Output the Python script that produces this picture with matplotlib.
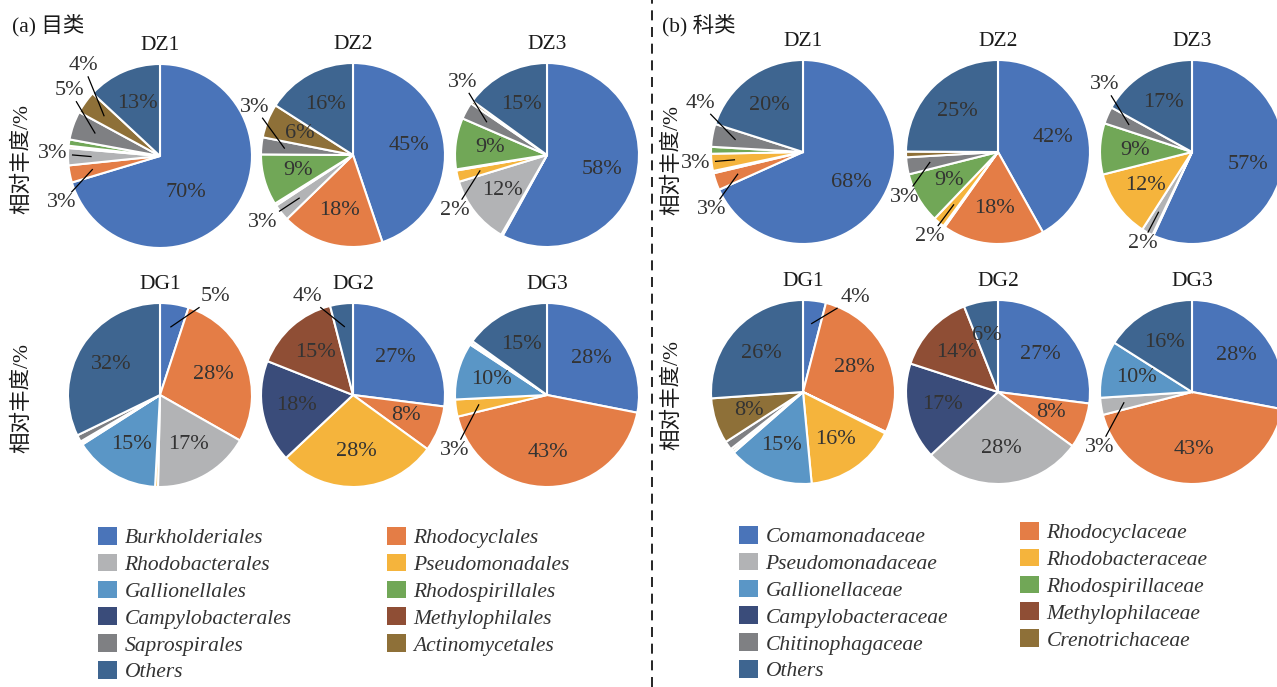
import numpy as np
import matplotlib
matplotlib.use("Agg")
import matplotlib.pyplot as plt
from matplotlib.patches import Patch

plt.rcParams['font.family'] = ['Liberation Serif', 'Noto Sans CJK SC']

W, H = 1277, 687

samples = ['DZ1', 'DZ2', 'DZ3', 'DG1', 'DG2', 'DG3']

orders = ['Burkholderiales', 'Rhodocyclales', 'Rhodobacterales', 'Pseudomonadales',
          'Gallionellales', 'Rhodospirillales', 'Campylobacterales', 'Methylophilales',
          'Saprospirales', 'Actinomycetales', 'Others']
families = ['Comamonadaceae', 'Rhodocyclaceae', 'Pseudomonadaceae', 'Rhodobacteraceae',
            'Gallionellaceae', 'Rhodospirillaceae', 'Campylobacteraceae', 'Methylophilaceae',
            'Chitinophagaceae', 'Crenotrichaceae', 'Others']

colors = ['#4A74B9', '#E47D46', '#B2B3B5', '#F5B43C', '#5A96C6', '#71A757',
          '#3A4C7A', '#8F4E35', '#7F8083', '#8E7038', '#3E6590']

# relative abundance (%) per sample, in legend order
order_dz1 = [70, 3, 3, 0.4, 0, 1.1, 0, 0, 5, 4, 13]
order_dz2 = [45, 18, 3, 0.4, 0, 9, 0, 0, 3, 6, 16]
order_dz3 = [58, 0.3, 12, 2, 0.2, 9, 0, 0, 3, 0.5, 15]
order_dg1 = [5, 28, 17, 0.5, 15, 0.3, 0, 0.3, 1.2, 0, 32]
order_dg2 = [27, 8, 0, 28, 0, 0, 18, 15, 0, 0, 4]
order_dg3 = [28, 43, 0, 3, 10, 0.3, 0, 0, 0.4, 0, 15]

family_dz1 = [68, 3, 0.4, 3, 0, 1.2, 0, 0, 4, 0, 20]
family_dz2 = [42, 18, 0.3, 2, 0, 9, 0, 0, 3, 1, 25]
family_dz3 = [57, 0.2, 2, 12, 0, 9, 0, 0, 3, 0, 17]
family_dg1 = [4, 28, 0.3, 16, 15, 0.4, 0, 0.4, 1.5, 8, 26]
family_dg2 = [27, 8, 28, 0, 0, 0, 17, 14, 0, 0, 6]
family_dg3 = [28, 43, 3, 0, 10, 0, 0, 0, 0, 0, 16]

order_data = [order_dz1, order_dz2, order_dz3, order_dg1, order_dg2, order_dg3]
family_data = [family_dz1, family_dz2, family_dz3, family_dg1, family_dg2, family_dg3]

# layout: pie centres in pixels
pie_r = 92
centres_a = [(160, 156), (353, 155), (547, 155), (160, 395), (353, 395), (547, 395)]
centres_b = [(803, 152), (998, 152), (1192, 152), (803, 392), (998, 392), (1192, 392)]

# where the small-slice labels sit (pie radius units)
outside_pos = {
    ('a', 'DZ1'): {1: (-1.07, -0.51), 2: (-1.17, 0.03), 8: (-0.98, 0.71), 9: (-0.83, 0.98)},
    ('a', 'DZ2'): {8: (-1.07, 0.52), 2: (-0.98, -0.73)},
    ('a', 'DZ3'): {8: (-0.92, 0.79), 3: (-1.0, -0.60)},
    ('a', 'DG1'): {0: (0.6, 1.07)},
    ('a', 'DG2'): {10: (-0.5, 1.07)},
    ('a', 'DG3'): {3: (-1.0, -0.60)},
    ('b', 'DZ1'): {8: (-1.12, 0.53), 3: (-1.17, -0.12), 1: (-0.99, -0.63)},
    ('b', 'DZ2'): {8: (-1.01, -0.49), 3: (-0.74, -0.92)},
    ('b', 'DZ3'): {8: (-0.95, 0.73), 2: (-0.54, -0.99)},
    ('b', 'DG1'): {0: (0.57, 1.03)},
    ('b', 'DG3'): {2: (-1.0, -0.60)},
}
inside_pos = {('a', 'DZ1'): {0: (0.28, -0.40)}}

text_color = '#333333'
fs = 16
fs_title = 15.5
fs_legend = 15.5

fig = plt.figure(figsize=(W / 100, H / 100), dpi=100)


def draw_pie(panel, name, values, cx, cy):
    ax = fig.add_axes([(cx - pie_r) / W, 1 - (cy + pie_r) / H, 2 * pie_r / W, 2 * pie_r / H])
    idx = [i for i, v in enumerate(values) if v > 0]
    vals = [values[i] for i in idx]
    wedges, _ = ax.pie(vals, colors=[colors[i] for i in idx], startangle=90,
                       counterclock=False,
                       wedgeprops=dict(edgecolor='white', linewidth=1.5))
    for w in wedges:
        w.set_clip_on(False)
    ax.set_xlim(-1, 1)
    ax.set_ylim(-1, 1)
    ax.set_aspect('equal')
    ax.axis('off')
    ax.text(0, 1.2, name, ha='center', va='center', fontsize=fs_title, color='#1a1a1a')

    total = sum(vals)
    cum = 0
    outs = outside_pos.get((panel, name), {})
    ins = inside_pos.get((panel, name), {})
    for i, v in zip(idx, vals):
        mid = np.deg2rad(90 - 360 * (cum + v / 2) / total)
        cum += v
        if v < 2:
            continue
        label = f"{v:.0f}%"
        if v >= 6:
            x, y = ins.get(i, (0.62 * np.cos(mid), 0.62 * np.sin(mid)))
            ax.text(x, y, label, ha='center', va='center', fontsize=fs, color=text_color)
        else:
            lx, ly = outs.get(i, (1.2 * np.cos(mid), 1.2 * np.sin(mid)))
            px, py = 0.75 * np.cos(mid), 0.75 * np.sin(mid)
            dx, dy = px - lx, py - ly
            t = min(0.22 / max(abs(dx), 1e-6), 0.12 / max(abs(dy), 1e-6))
            ax.plot([lx + dx * t, px], [ly + dy * t, py], color='black', lw=0.9,
                    clip_on=False)
            ax.text(lx, ly, label, ha='center', va='center', fontsize=fs, color=text_color)


for name, vals, (cx, cy) in zip(samples, order_data, centres_a):
    draw_pie('a', name, vals, cx, cy)
for name, vals, (cx, cy) in zip(samples, family_data, centres_b):
    draw_pie('b', name, vals, cx, cy)

# panel titles and axis labels
fig.text(12 / W, 1 - 25 / H, '(a) 目类', ha='left', va='center', fontsize=fs_title,
         color='#1a1a1a')
fig.text(662 / W, 1 - 25 / H, '(b) 科类', ha='left', va='center', fontsize=fs_title,
         color='#1a1a1a')
for x, y in [(22, 159), (22, 398), (672, 160), (672, 395)]:
    fig.text(x / W, 1 - y / H, '相对丰度/%', rotation=90, ha='center', va='center',
             fontsize=fs_title, color='#1a1a1a')

# dashed divider
fig.add_artist(plt.Line2D([652 / W, 652 / W], [0, 1], color='black', lw=1.2,
                          linestyle=(0, (6, 4))))


def legend_columns(names, x1, y1, x2, y2):
    col1 = names[0::2]
    col2 = names[1::2]
    for col, x, y in [(col1, x1, y1), (col2, x2, y2)]:
        handles = [Patch(facecolor=colors[names.index(n)], edgecolor='none') for n in col]
        leg = fig.legend(handles, col, loc='upper left', bbox_to_anchor=(x / W, 1 - y / H),
                         frameon=False, borderpad=0, borderaxespad=0, handlelength=0.88,
                         handleheight=0.88, handletextpad=0.35, labelspacing=0.26,
                         prop=dict(size=fs_legend, style='italic', family='Liberation Serif'))
        for t in leg.get_texts():
            t.set_color(text_color)


legend_columns(orders, 98, 527, 387, 527)
legend_columns(families, 739, 526, 1020, 522)

fig.savefig('out.png', dpi=100)
